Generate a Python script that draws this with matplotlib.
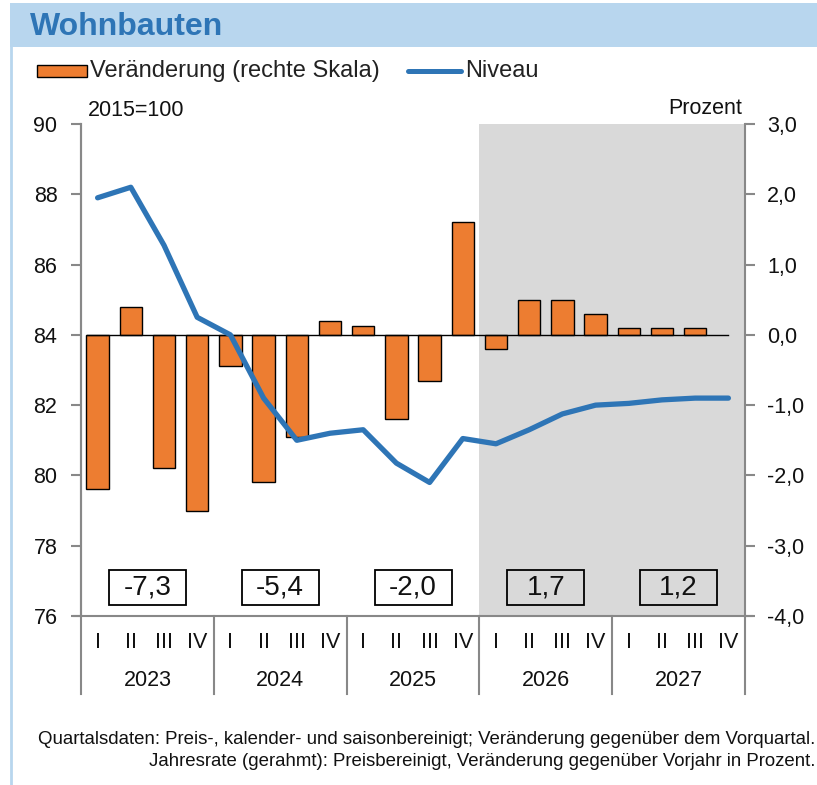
import numpy as np
import matplotlib.pyplot as plt
from matplotlib.patches import Rectangle
from matplotlib.lines import Line2D
import matplotlib.transforms as mtransforms

plt.rcParams['font.family'] = ['Liberation Sans', 'DejaVu Sans']

years = ["2023", "2024", "2025", "2026", "2027"]
quarters = ["I", "II", "III", "IV"]
# quarterly change vs previous quarter, percent (right axis)
change = [-2.2, 0.4, -1.9, -2.5,
          -0.45, -2.1, -1.45, 0.2,
          0.13, -1.2, -0.66, 1.6,
          -0.2, 0.5, 0.5, 0.3,
          0.1, 0.1, 0.1, 0.0]
# level, 2015=100 (left axis)
level = [87.9, 88.2, 86.55, 84.5,
         84.0, 82.2, 81.0, 81.2,
         81.3, 80.35, 79.8, 81.05,
         80.9, 81.3, 81.75, 82.0,
         82.05, 82.15, 82.2, 82.2]
annual = ["-7,3", "-5,4", "-2,0", "1,7", "1,2"]
forecast_start = 12

W, H = 817, 785
fig = plt.figure(figsize=(W / 100, H / 100), dpi=100)
txt = "#111111"

# header band and frame
fig.patches.append(Rectangle((10 / W, 1 - 47 / H), 1, 44 / H, transform=fig.transFigure,
                             facecolor="#B8D6EE", edgecolor="none", zorder=0))
fig.lines.append(Line2D([10.5 / W, 10.5 / W], [0, 1 - 47 / H], transform=fig.transFigure,
                        color="#B8D6EE", lw=2))
fig.text(30 / W, 1 - 27 / H, "Wohnbauten", fontsize=23, fontweight="bold",
         color="#2E75B6", va="center", ha="left")

# legend
fig.patches.append(Rectangle((37 / W, 1 - 77 / H), 50 / W, 12 / H, transform=fig.transFigure,
                             facecolor="#ED7D31", edgecolor="black", lw=1))
fig.text(90 / W, 1 - 71 / H, "Veränderung (rechte Skala)", fontsize=17, va="center",
         ha="left", color="#222222")
fig.lines.append(Line2D([408 / W, 461 / W], [1 - 71 / H, 1 - 71 / H], transform=fig.transFigure,
                        color="#2E75B6", lw=3.6, solid_capstyle="round"))
fig.text(465 / W, 1 - 71 / H, "Niveau", fontsize=17, va="center", ha="left", color="#222222")

left, right, top, bottom = 81, 745, 124, 616
ax = fig.add_axes([left / W, 1 - bottom / H, (right - left) / W, (bottom - top) / H])
axl = ax.twinx()

x = np.arange(len(change))
ax.set_xlim(-0.5, len(change) - 0.5)
ax.set_ylim(-4, 3)
axl.set_ylim(76, 90)

ax.axvspan(forecast_start - 0.5, len(change) - 0.5, color="#D9D9D9", zorder=0, lw=0)
edge_w = [1 if v != 0 else 0 for v in change]
ax.bar(x, change, width=0.67, color="#ED7D31", edgecolor="black", lw=edge_w, zorder=2)
ax.plot([-0.33, len(change) - 1], [0, 0], color="black", lw=1, zorder=3)
axl.plot(x, level, color="#2E75B6", lw=3.8, solid_capstyle="round", zorder=4)

gray = "#888888"
for a in (ax, axl):
    for s in a.spines.values():
        s.set_visible(False)
    a.set_xticks([])

# right axis (percent)
ax.spines["right"].set_visible(True)
ax.spines["right"].set_color(gray)
ax.spines["right"].set_linewidth(1.5)
ax.yaxis.tick_right()
rticks = np.arange(-4, 3.1, 1)
ax.set_yticks(rticks)
ax.set_yticklabels([f"{v:.1f}".replace(".", ",") for v in rticks])
ax.tick_params(axis="y", direction="out", length=7, width=1.5, color=gray,
               labelsize=15.5, pad=9, labelcolor=txt)

# left axis (level)
axl.spines["left"].set_visible(True)
axl.spines["left"].set_color(gray)
axl.spines["left"].set_linewidth(1.5)
axl.yaxis.tick_left()
axl.set_yticks(np.arange(76, 91, 2))
axl.tick_params(axis="y", direction="out", length=7, width=1.5, color=gray,
                labelsize=15.5, pad=10, labelcolor=txt)

# category axis
ax.plot([-0.7, len(change) - 0.3], [-4, -4], color=gray, lw=1.5, clip_on=False, zorder=5)
trans = mtransforms.blended_transform_factory(ax.transData, ax.transAxes)
ax_h = (bottom - top)
for k in range(len(years) + 1):
    xs = k * 4 - 0.5
    ax.plot([xs, xs], [0, -78 / ax_h], transform=trans, color=gray, lw=1.5, clip_on=False)
ax.plot([-0.5, -0.5], [0, 1], transform=trans, color=gray, lw=1.5, clip_on=False, zorder=5)
for i in x:
    ax.text(i, -26 / ax_h, quarters[i % 4], transform=trans, ha="center", va="center",
            fontsize=15.5, color=txt)

# annual rates in frames
box_w = 77 / 33.2
for k, yr in enumerate(years):
    cx = k * 4 + 1.5
    ax.text(cx, -65 / ax_h, yr, transform=trans, ha="center", va="center",
            fontsize=15.5, color=txt)
    ax.add_patch(Rectangle((cx - box_w / 2, -3.842), box_w, 0.498,
                           facecolor="white" if k < 3 else "#D9D9D9",
                           edgecolor="black", lw=1.3, zorder=6))
    ax.text(cx, -3.59, annual[k], ha="center", va="center", fontsize=20,
            color=txt, zorder=7)

fig.text(88 / W, 1 - 110 / H, "2015=100", fontsize=15.5, ha="left", va="center", color=txt)
fig.text(742 / W, 1 - 108 / H, "Prozent", fontsize=15.5, ha="right", va="center", color=txt)

fig.text(815 / W, 1 - 740 / H,
         "Quartalsdaten: Preis-, kalender- und saisonbereinigt; Veränderung gegenüber dem Vorquartal.",
         fontsize=13.4, ha="right", va="center", color=txt)
fig.text(815 / W, 1 - 762 / H,
         "Jahresrate (gerahmt): Preisbereinigt, Veränderung gegenüber Vorjahr in Prozent.",
         fontsize=13.4, ha="right", va="center", color=txt)

fig.savefig("out.png", dpi=100)
